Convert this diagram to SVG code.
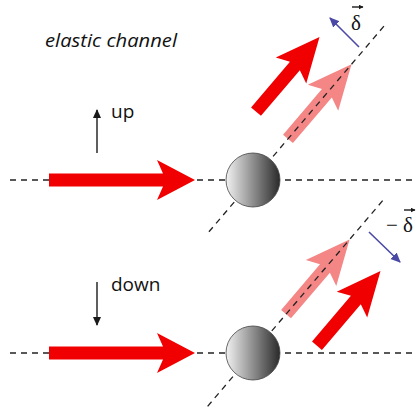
<svg xmlns="http://www.w3.org/2000/svg" xmlns:xlink="http://www.w3.org/1999/xlink" width="416" height="416" viewBox="0 0 416 416">
<style>
.dash{stroke:#222;stroke-width:1.3;stroke-dasharray:6 5;fill:none}
.red{fill:#f00000}
.pink{fill:#f48686}
.ball{fill:url(#ballGrad);stroke:#444;stroke-width:0.8}
.lbl{font-family:"Open Sans","Liberation Sans",sans-serif;fill:#111}
.sym{font-family:"Liberation Serif","DejaVu Serif",serif;fill:#111;font-size:21px}
.thin{stroke:#1a1a1a;stroke-width:1.4;fill:none}
.blue{stroke:#4a4aa6;stroke-width:1.6;fill:none}
</style>
<defs>
<linearGradient id="ballGrad" x1="0" y1="0" x2="1" y2="0">
<stop offset="0" stop-color="#f2f2f2"/>
<stop offset="0.5" stop-color="#8e8e8e"/>
<stop offset="1" stop-color="#2a2a2a"/>
</linearGradient>
<path id="horiz" d="M0,-6.5 H114 L108,-20 L146,0 L108,20 L114,6.5 H0 Z"/>
<path id="diag" d="M0,-6.5 H60 L54,-20 L98,0 L54,20 L60,6.5 H0 Z"/>
<marker id="blackHeadBig" viewBox="0 0 10 10" refX="9" refY="5" markerWidth="9" markerHeight="9" markerUnits="userSpaceOnUse" orient="auto">
<path d="M0,0.5 L10,5 L0,9.5 Z" fill="#1a1a1a"/>
</marker>
<marker id="blueHead" viewBox="0 0 10 10" refX="9" refY="5" markerWidth="10" markerHeight="10" markerUnits="userSpaceOnUse" orient="auto">
<path d="M0,0.5 L10,5 L0,9.5 Z" fill="#4a4aa6"/>
</marker>
<marker id="vecHead" viewBox="0 0 10 10" refX="9" refY="5" markerWidth="5" markerHeight="5" markerUnits="userSpaceOnUse" orient="auto">
<path d="M0,0 L10,5 L0,10 Z" fill="#1a1a1a"/>
</marker>
</defs>

<g id="title">
<text class="lbl" x="45" y="47" font-size="17.5" font-style="italic" textLength="132" lengthAdjust="spacingAndGlyphs">elastic channel</text>
</g>

<g id="connectors">
<line class="dash" x1="10" y1="180" x2="416" y2="180"/>
<line class="dash" x1="10" y1="353" x2="416" y2="353"/>
</g>

<g id="top-panel">
<g id="top-incoming"><use xlink:href="#horiz" class="red" transform="translate(49,180)"/></g>
<g transform="translate(253,180) rotate(-49.6)">
<use id="top-pink" xlink:href="#diag" class="pink" x="54" y="0"/>
<line class="dash" x1="-68" y1="0" x2="207" y2="0"/>
<use id="top-red" xlink:href="#diag" class="red" x="54" y="-42"/>
</g>
<circle id="top-ball" class="ball" cx="253" cy="180" r="27"/>
<g id="up-arrow">
<line class="thin" x1="97" y1="153" x2="97" y2="110" marker-end="url(#blackHeadBig)"/>
<text class="lbl" x="111" y="118" font-size="19">up</text>
</g>
<g id="top-delta">
<line class="blue" x1="359" y1="47" x2="330" y2="18" marker-end="url(#blueHead)"/>
<line class="thin" stroke-width="1" x1="352" y1="7" x2="363" y2="7" marker-end="url(#vecHead)"/>
<text class="sym" x="351" y="30">δ</text>
</g>
</g>

<g id="bottom-panel">
<g id="bottom-incoming"><use xlink:href="#horiz" class="red" transform="translate(49,353)"/></g>
<g transform="translate(253,353) rotate(-49.6)">
<use id="bottom-pink" xlink:href="#diag" class="pink" x="51" y="0"/>
<line class="dash" x1="-70" y1="0" x2="203" y2="0"/>
<use id="bottom-red" xlink:href="#diag" class="red" x="47" y="44"/>
</g>
<circle id="bottom-ball" class="ball" cx="253" cy="353" r="27"/>
<g id="down-arrow">
<line class="thin" x1="97" y1="282" x2="97" y2="325" marker-end="url(#blackHeadBig)"/>
<text class="lbl" x="111" y="291" font-size="19">down</text>
</g>
<g id="bottom-delta">
<line class="blue" x1="369" y1="232" x2="400" y2="262" marker-end="url(#blueHead)"/>
<line class="thin" stroke-width="1" x1="404" y1="210" x2="415" y2="210" marker-end="url(#vecHead)"/>
<text class="sym" x="386" y="232">−<tspan x="403">δ</tspan></text>
</g>
</g>
</svg>
